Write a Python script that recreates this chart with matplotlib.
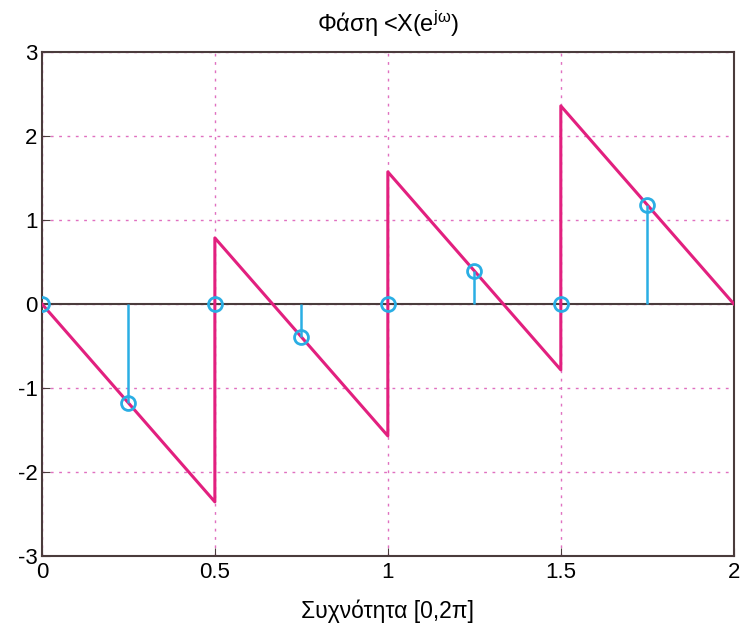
import matplotlib
matplotlib.use("Agg")
import matplotlib.pyplot as plt

plt.rcParams['font.family'] = ['Liberation Sans', 'DejaVu Sans']
plt.rcParams['mathtext.fontset'] = 'custom'
plt.rcParams['mathtext.rm'] = 'Liberation Sans'
plt.rcParams['mathtext.it'] = 'Liberation Sans'

# Continuous phase (sawtooth) corners
line_x = [0, 0.5, 0.5, 1.0, 1.0, 1.5, 1.5, 2.0]
line_y = [0, -2.356, 0.785, -1.571, 1.571, -0.785, 2.356, 0]

# Sampled phase (stems)
stem_x = [0, 0.25, 0.5, 0.75, 1.0, 1.25, 1.5, 1.75]
stem_y = [0, -1.178, 0, -0.393, 0, 0.393, 0, 1.178]

xticks = [0, 0.5, 1, 1.5, 2]
xtick_labels = ['0', '0.5', '1', '1.5', '2']
yticks = [-3, -2, -1, 0, 1, 2, 3]
ytick_labels = ['-3', '-2', '-1', '0', '1', '2', '3']

magenta = '#e2207f'
cyan = '#2aaee4'
spine = '#4a3c3c'

fig = plt.figure(figsize=(7.48, 6.24), dpi=100)
ax = fig.add_axes([0.056, 0.109, 0.925, 0.808])

ax.plot(line_x, line_y, color=magenta, lw=2.2, zorder=3)
ml, sl, bl = ax.stem(stem_x, stem_y, basefmt=' ')
plt.setp(sl, color=cyan, lw=1.8, zorder=4)
plt.setp(ml, marker='o', markersize=10, markerfacecolor='none',
         markeredgecolor=cyan, markeredgewidth=2, zorder=5)
ax.axhline(0, color=spine, lw=1.5, zorder=2)

ax.set_xlim(0, 2)
ax.set_ylim(-3, 3)
ax.set_xticks(xticks)
ax.set_xticklabels(xtick_labels)
ax.set_yticks(yticks)
ax.set_yticklabels(ytick_labels)
ax.grid(True, color='#e070c0', linestyle=(0, (2, 4)), lw=1)
ax.tick_params(direction='in', length=6, color=spine, labelsize=16)
ax.tick_params(axis='x', pad=4)
ax.tick_params(axis='y', pad=3)
for s in ax.spines.values():
    s.set_color(spine)
    s.set_linewidth(1.5)

ax.set_title('Φάση <X(e$^{jω}$)', fontsize=17, pad=14)
ax.set_xlabel('Συχνότητα [0,2π]', fontsize=16.5, labelpad=12)

fig.savefig('out.png', dpi=100)
